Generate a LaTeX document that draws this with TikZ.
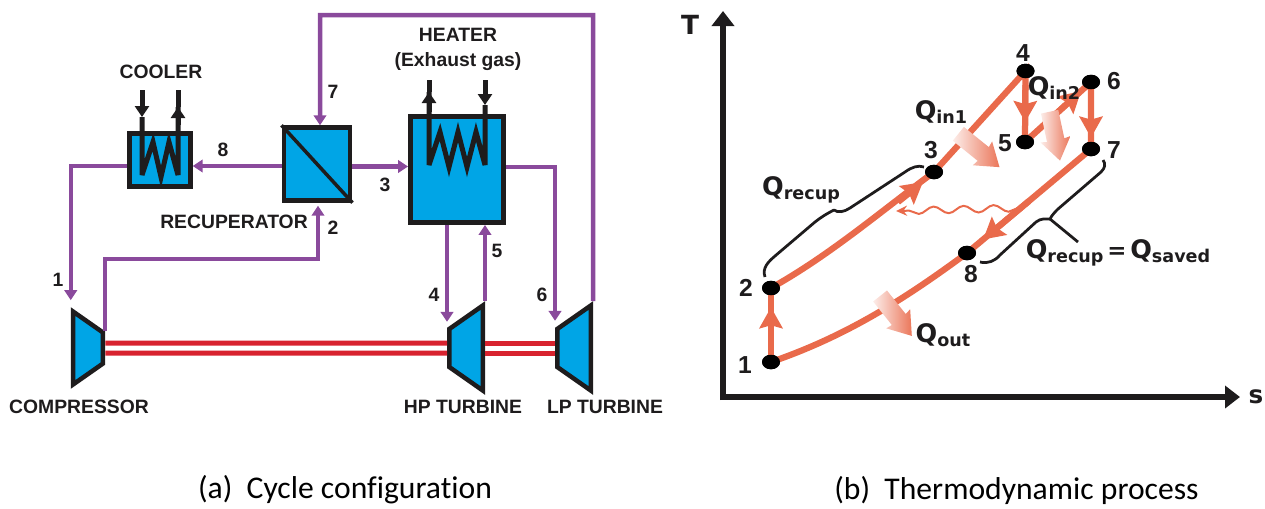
\documentclass[tikz,border=0pt]{standalone}
\usepackage{fontspec}
\setmainfont{Liberation Sans}
\newfontfamily\capfont[Ligatures=NoCommon]{Carlito}
\newfontfamily\widefont{DejaVu Sans}
\usepackage{xcolor}
\usepackage{tikz}
\usetikzlibrary{arrows.meta,calc,shapes.geometric,shapes.arrows,decorations.pathmorphing}
\definecolor{unitblue}{HTML}{00A5E6}
\definecolor{inkblack}{HTML}{1E1C1D}
\definecolor{pipe}{HTML}{8A4A9C}
\definecolor{shaftred}{HTML}{D8232F}
\definecolor{cycline}{HTML}{E96A4B}
\newcommand{\Qsub}[1]{{\fontsize{14.5}{16}\selectfont Q}\raisebox{-.3ex}{\fontsize{10}{12}\selectfont #1}}
\tikzset{
  unit/.style={rectangle, draw=inkblack, fill=unitblue, line width=.09cm, inner sep=0pt},
  machine/.style={trapezium, draw=inkblack, fill=unitblue, line width=.09cm, inner sep=0pt,
    trapezium left angle=55, trapezium right angle=55},
  pipeline/.style={draw=pipe, line width=.09cm},
  flow/.style={pipeline, -{Triangle[length=.2cm,width=.25cm]}},
  coil/.style={draw=inkblack, line width=.1cm, line join=miter, miter limit=5},
  coilflow/.style={coil, -{Triangle[length=.22cm,width=.28cm]}},
  shaft/.style={draw=shaftred, line width=.1cm},
  lbl/.style={font=\fontsize{11}{13}\selectfont\bfseries, text=inkblack, inner sep=0pt, align=center},
  axis/.style={draw=inkblack, line width=.13cm, -{Triangle[length=.3cm,width=.44cm]}},
  cyc/.style={draw=cycline, line width=.125cm},
  cyctip/.style={cyc, -{Stealth[length=.42cm,width=.46cm,inset=.06cm]}},
  pt/.style={ellipse, fill=black, inner sep=0pt, minimum width=.36cm, minimum height=.29cm},
  ptlbl/.style={font=\fontsize{14}{16}\selectfont\bfseries, text=inkblack, inner sep=0pt},
  qlbl/.style={font=\widefont\fontsize{13}{15}\selectfont\bfseries, text=inkblack, inner sep=0pt},
  qarrow/.style={single arrow, inner sep=0pt, single arrow head extend=.13cm, single arrow tip angle=70,
    single arrow head indent=.02cm, left color=cycline!12, right color=cycline!92},
  wavy/.style={draw=cycline, line width=.04cm, -{Stealth[length=.22cm,width=.2cm]}, decorate,
    decoration={snake, segment length=.6cm, amplitude=.07cm, post=lineto, post length=.25cm}},
  bracket/.style={draw=inkblack, line width=.055cm, line join=round},
  caption/.style={font=\capfont\fontsize{18}{21}\selectfont, text=black, inner sep=0pt}
}
\newcommand{\qbody}{\rule{0pt}{.34cm}}
\begin{document}
\begin{tikzpicture}[x=.02cm,y=-.02cm]
\path[use as bounding box] (0,0) rectangle (1265,508);
\node[unit, minimum width=1.22cm, minimum height=1.06cm] (cooler) at (160,160) {};
\node[unit, minimum width=1.33cm, minimum height=1.46cm] (recup) at (317,164) {};
\node[unit, minimum width=1.87cm, minimum height=2.13cm] (heater) at (457,169.5) {};
\node[machine, rotate=-90] (comp) at (88,348) {\phantom{\rule{.62cm}{.6cm}}};
\node[machine, rotate=90] (hpt) at (466,348) {\phantom{\rule{.76cm}{.67cm}}};
\node[machine, rotate=90] (lpt) at (574,348) {\phantom{\rule{.76cm}{.67cm}}};
\draw[shaft] ([yshift=.1cm]comp.north) -- ([yshift=.1cm]hpt.north);
\draw[shaft] ([yshift=-.1cm]comp.north) -- ([yshift=-.1cm]hpt.north);
\draw[shaft] ([yshift=.1cm]hpt.south) -- ([yshift=.1cm]lpt.north);
\draw[shaft] ([yshift=-.1cm]hpt.south) -- ([yshift=-.1cm]lpt.north);
\draw[inkblack, line width=.07cm] (recup.north west) -- (recup.south east);
\coordinate (c1) at (142,90);
\coordinate (c2) at (142,117);
\coordinate (c3) at (178,107);
\coordinate (c4) at (178,90);
\coordinate (h1) at (429,92);
\coordinate (h2) at (429,80);
\coordinate (h3) at (485,80);
\coordinate (h4) at (485,105);
\draw[coilflow] (c1) -- (c2);
\draw[coil] (c2) -- (142,175) -- (153,142) -- (161,177) -- (169,142) -- (178,175) -- (c3);
\draw[coilflow] (178,125) -- (c3);
\draw[coil] (c3) -- (c4);
\draw[coilflow] (h3) -- (h4);
\draw[coil] (h4) -- (485,165) -- (476,132) -- (467,167) -- (458,132) -- (449,167) -- (440,132) -- (429,165) -- (h1);
\draw[coilflow] (429,112) -- (h1);
\draw[coil] (h1) -- (h2);
\draw[flow] (cooler.west |- 0,166) -| ([yshift=.14cm]comp.bottom left corner);
\draw[flow] (comp.top left corner) |- (318,259) -- ([yshift=-.06cm,xshift=.02cm]recup.south);
\draw[flow] (recup.east |- 0,166.5) -- (heater.west |- 0,166.5);
\draw[flow] (heater.east |- 0,167) -| ([yshift=.14cm]lpt.top right corner);
\draw[flow] (recup.west |- 0,166) -- (cooler.east |- 0,166);
\draw[flow] (hpt.top right corner |- heater.south) -- ([yshift=.12cm]hpt.top right corner);
\draw[flow] (hpt.bottom right corner) -- (hpt.bottom right corner |- heater.south);
\draw[flow] (lpt.bottom right corner) |- (320,15) -- ([xshift=.06cm]recup.north);
\node[lbl] (lcooler) at (161,72) {COOLER};
\node[lbl] (lheater) at (458,35) {HEATER};
\node[lbl] (lexhaust) at (458,62) {(Exhaust gas)};
\node[lbl] (lrecup) at (234,222) {RECUPERATOR};
\node[lbl] (lcomp) at (79,407) {COMPRESSOR};
\node[lbl] (lhpt) at (463,407) {HP TURBINE};
\node[lbl] (llpt) at (605,407) {LP TURBINE};
\node[lbl] (n1) at (58,280) {1};
\node[lbl] (n2) at (333,228) {2};
\node[lbl] (n3) at (385,185) {3};
\node[lbl] (n4) at (434,295) {4};
\node[lbl] (n5) at (497,251) {5};
\node[lbl] (n6) at (542,295) {6};
\node[lbl] (n7) at (333,92) {7};
\node[lbl] (n8) at (223,150) {8};
\coordinate (orig) at (723,397);
\coordinate (ttip) at (723,11);
\coordinate (stip) at (1240,397);
\draw[axis] ($(orig)+(0,3)$) -- (ttip);
\draw[axis] (orig) -- (stip);
\node[ptlbl, font=\widefont\fontsize{15}{17}\selectfont\bfseries] (taxis) at (690,25) {T};
\node[ptlbl, font=\widefont\fontsize{14}{16}\selectfont\bfseries] (saxis) at (1256,397) {s};
\node[pt] (p1) at (771,362) {};
\node[pt] (p2) at (771,288) {};
\node[pt] (p3) at (934,172) {};
\node[pt] (p4) at (1025.5,71) {};
\node[pt] (p5) at (1025,142) {};
\node[pt] (p6) at (1091,82) {};
\node[pt] (p7) at (1091,149) {};
\node[pt] (p8) at (967,253) {};
\coordinate (tail23) at (898,202);
\coordinate (tip23) at (923,182);
\draw[cyc] (p1.center) -- (p2.center);
\draw[cyc] (p2.center) .. controls (830,255) and (880,212) .. (p3.center);
\draw[cyc] (p3.center) -- (p4.center) -- (p5.center) -- (p6.center) -- (p7.center) -- (p8.center);
\draw[cyc] (p8.center) .. controls (910,295) and (850,335) .. (p1.center);
\draw[cyctip] ($(p1)!.3!(p2)$) -- ($(p1)!.74!(p2)$);
\draw[cyctip] (tail23) -- (tip23);
\draw[cyctip] ($(p4)!.2!(p5)$) -- ($(p4)!.72!(p5)$);
\draw[cyctip] ($(p5)!.3!(p6)$) -- ($(p5)!.85!(p6)$);
\draw[cyctip] ($(p6)!.2!(p7)$) -- ($(p6)!.83!(p7)$);
\draw[cyctip] ($(p7)!.5!(p8)$) -- ($(p7)!.87!(p8)$);
\fill[black] (p1) ellipse (.18cm and .145cm) (p2) ellipse (.18cm and .145cm) (p3) ellipse (.18cm and .145cm) (p4) ellipse (.18cm and .145cm)
  (p5) ellipse (.18cm and .145cm) (p6) ellipse (.18cm and .145cm) (p7) ellipse (.18cm and .145cm) (p8) ellipse (.18cm and .145cm);
\coordinate (wstart) at (1018,208);
\coordinate (wend) at (896,211);
\draw[wavy] (wstart) -- (wend);
\node[qarrow, rotate=-39, minimum height=1.06cm] (qin1) at (974,146.5) {\qbody};
\node[qarrow, rotate=-78, minimum height=1cm] (qin2) at (1053.5,130) {\qbody};
\node[qarrow, rotate=-51.5, minimum height=1.02cm] (qout) at (892,311) {\qbody};
\draw[bracket] (765,277) .. controls (762,268) and (768,262) .. (775,256) -- (815,222) .. controls (820,218) and (826,214) .. (834,210)
  .. controls (838,213) and (844,212) .. (850,208) -- (905,172) .. controls (912,167) and (918,165) .. (924,167);
\draw[bracket] (1103,160) .. controls (1106,164) and (1105,168) .. (1101,172) -- (1058,209) .. controls (1055,212) and (1052,215) .. (1050,219)
  .. controls (1046,219) and (1041,218) .. (1036,222) -- (1000,255) .. controls (995,261) and (988,264) .. (980,262);
\draw[bracket] (1050,219) -- (1078,242);
\node[qlbl] (qrecup) at (801,190) {\Qsub{recup}};
\node[qlbl] (qin1lbl) at (941,112) {\Qsub{in1}};
\node[qlbl] (qin2lbl) at (1054,88) {\Qsub{in2}};
\node[qlbl] (qoutlbl) at (943,335) {\Qsub{out}};
\node[qlbl] (qeq) at (1118,253) {\Qsub{recup}\,=\,\Qsub{saved}};
\node[ptlbl] (t1) at (745,365) {1};
\node[ptlbl] (t2) at (746,288) {2};
\node[ptlbl] (t3) at (931,150) {3};
\node[ptlbl] (t4) at (1023,53) {4};
\node[ptlbl] (t5) at (1005,143) {5};
\node[ptlbl] (t6) at (1114,81) {6};
\node[ptlbl] (t7) at (1114,150) {7};
\node[ptlbl] (t8) at (971,274) {8};
\node[caption] (capa) at (345,490) {(a)\ \ Cycle configuration};
\node[caption] (capb) at (1016.5,490) {(b)\ \ Thermodynamic process};
\end{tikzpicture}
\end{document}
